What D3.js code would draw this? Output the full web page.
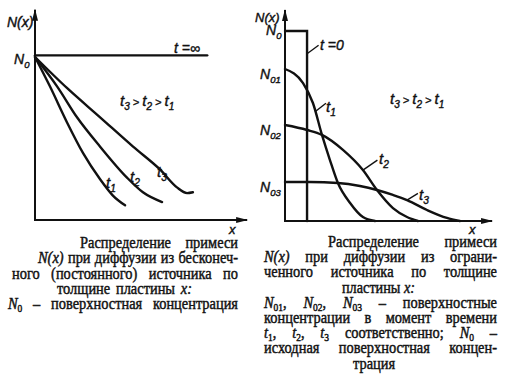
<!DOCTYPE html>
<html>
<head>
<meta charset="utf-8">
<script src="https://cdn.jsdelivr.net/npm/d3@7"></script>
<style>
  body { margin: 0; background: #fff; }
  svg { display: block; }
</style>
</head>
<body>
<div id="chart"></div>
<script>
// left: diffusion from an infinite source, depth (arb. units) vs N/N0
const infT1 = [[0, 1], [0.71, 0.82], [1.52, 0.6], [2.29, 0.41], [3.1, 0.25], [3.71, 0.15], [4.29, 0.09]];
const infT2 = [[0, 1], [1.05, 0.82], [2.0, 0.63], [3.1, 0.45], [4.38, 0.26], [5.14, 0.17], [6.05, 0.11]];
const infT3 = [[0, 1], [1.52, 0.81], [3.1, 0.63], [4.67, 0.45], [5.95, 0.31], [6.76, 0.2], [7.24, 0.165], [7.52, 0.17]];
const infLimit = [[0, 1.01], [8.2, 1.01]];

// right: diffusion from a limited source
const limT0 = [[0, 1], [1.05, 1], [1.05, 0]];
const limT1 = [[0, 0.8], [0.86, 0.726], [1.33, 0.621], [1.76, 0.453], [2.14, 0.321], [2.52, 0.2], [3.1, 0.095], [3.71, 0.021], [4.29, 0]];
const limT2 = [[0, 0.505], [1.05, 0.479], [1.76, 0.453], [2.76, 0.374], [3.71, 0.268], [4.38, 0.163], [5.14, 0.068], [5.81, 0.021], [6.33, 0]];
const limT3 = [[0, 0.205], [1.19, 0.205], [2.52, 0.2], [3.57, 0.184], [4.38, 0.163], [5.14, 0.137], [5.81, 0.11], [6.76, 0.058], [7.71, 0.016], [8.33, 0]];
const surfLevels = [["0", 1], ["01", 0.8], ["02", 0.505], ["03", 0.205]];

const capLeft = [
  "Распределение примеси",
  "*N(x)* при диффузии из бесконеч-",
  "ного (постоянного) источника по",
  "толщине пластины *x:*",
  "*N*_{0} – поверхностная концентрация"
];
const capRight = [
  "Распределение примеси",
  "*N(x)* при диффузии из ограни-",
  "ченного источника по толщине",
  "пластины *x:*",
  "*N*_{01}, *N*_{02}, *N*_{03} – поверхностные",
  "концентрации в момент времени",
  "*t*_{1}, *t*_{2}, *t*_{3} соответственно; *N*_{0} –",
  "исходная поверхностная концен-",
  "трация"
];

const width = 517, height = 377;
const svg = d3.select("#chart").append("svg")
  .attr("width", width).attr("height", height);

const defs = svg.append("defs");
defs.append("marker")
  .attr("id", "arr")
  .attr("viewBox", "0 -3 12 6")
  .attr("refX", 11).attr("refY", 0)
  .attr("markerWidth", 12).attr("markerHeight", 6)
  .attr("markerUnits", "userSpaceOnUse")
  .attr("orient", "auto")
  .append("path").attr("d", "M0,-3L12,0L0,3Z").attr("fill", "#111");

const xL = d3.scaleLinear().domain([0, 10]).range([35, 245]);
const yL = d3.scaleLinear().domain([0, 1]).range([220, 57]);
const xR = d3.scaleLinear().domain([0, 10]).range([285, 495]);
const yR = d3.scaleLinear().domain([0, 1]).range([221, 31]);

function axes(x, y, xMax, yMax) {
  svg.append("line")
    .attr("x1", x(0)).attr("y1", y(0)).attr("x2", x(0)).attr("y2", y(yMax))
    .attr("stroke", "#111").attr("stroke-width", 2).attr("marker-end", "url(#arr)");
  svg.append("line")
    .attr("x1", x(0) - 1).attr("y1", y(0)).attr("x2", x(xMax)).attr("y2", y(0))
    .attr("stroke", "#111").attr("stroke-width", 2).attr("marker-end", "url(#arr)");
}

function curve(x, y, pts, kind) {
  const line = d3.line().x(d => x(d[0])).y(d => y(d[1]))
    .curve(kind || d3.curveMonotoneX);
  svg.append("path").datum(pts)
    .attr("d", line)
    .attr("fill", "none").attr("stroke", "#111")
    .attr("stroke-width", 2.4).attr("stroke-linecap", "round");
}

function lblText(px, py, size) {
  return svg.append("text")
    .attr("x", px).attr("y", py)
    .attr("font-family", "Liberation Sans, DejaVu Sans, sans-serif")
    .attr("font-style", "italic").attr("font-size", size)
    .attr("fill", "#111").attr("stroke", "#111").attr("stroke-width", 0.4);
}

function label(px, py, base, sub, size) {
  size = size || 15;
  const t = lblText(px, py, size);
  t.append("tspan").text(base);
  if (sub) t.append("tspan").attr("dy", 4).attr("font-size", size * 0.68).text(sub);
  return t;
}

function leader(x, y, from, to) {
  svg.append("line")
    .attr("x1", x(from[0])).attr("y1", y(from[1]))
    .attr("x2", x(to[0])).attr("y2", y(to[1]))
    .attr("stroke", "#111").attr("stroke-width", 1.4);
}

function order(px, py) {
  const t = lblText(px, py, 15);
  ["3", "2", "1"].forEach((s, i) => {
    if (i) t.append("tspan").attr("dy", -4).attr("font-size", 11).text(" > ");
    t.append("tspan").text("t");
    t.append("tspan").attr("dy", 4).attr("font-size", 10).text(s);
  });
}

// ---- left chart
axes(xL, yL, 10.1, 1.29);
curve(xL, yL, infLimit, d3.curveLinear);
curve(xL, yL, infT1);
curve(xL, yL, infT2);
curve(xL, yL, infT3);
label(7, 27, "N(x)", null, 14);
label(14, 64, "N", "0", 14);
lblText(174, 53, 14).text("t =∞");
label(106, 188, "t", "1");
label(130, 182, "t", "2");
label(157, 177, "t", "3");
order(120, 106);
label(229, 234, "x", null, 13);

// ---- right chart
axes(xR, yR, 9.86, 1.11);
curve(xR, yR, limT0, d3.curveLinear);
curve(xR, yR, limT1);
curve(xR, yR, limT2);
curve(xR, yR, limT3);
label(255, 22, "N(x)", null, 13);
surfLevels.forEach(d => {
  label(d[0] === "0" ? 266 : 260, yR(d[1]) + (d[0] === "0" ? 4 : 10), "N", d[0], 14);
});
leader(xR, yR, [1.05, 0.88], [1.6, 0.925]);
lblText(320, 50, 14).text("t =0");
leader(xR, yR, [1.43, 0.575], [1.95, 0.62]);
label(326, 112, "t", "1");
leader(xR, yR, [3.71, 0.268], [4.4, 0.32]);
label(379, 164, "t", "2");
leader(xR, yR, [5.81, 0.11], [6.33, 0.145]);
label(419, 200, "t", "3");
order(390, 104);
label(469, 234, "x", null, 13);

// ---- captions (justified lines, serif, slightly condensed)
const squeeze = 0.9;

function drawWord(g, w, y) {
  const t = g.append("text").attr("x", 0).attr("y", y)
    .attr("font-family", "Liberation Serif, DejaVu Serif, serif")
    .attr("font-size", 16)
    .attr("fill", "#111").attr("stroke", "#111").attr("stroke-width", 0.45);
  const parts = w.split(/(\*[^*]+\*|_\{[^}]+\})/).filter(s => s);
  let lowered = false;
  parts.forEach(p => {
    if (p.startsWith("*")) {
      t.append("tspan").attr("font-style", "italic").attr("dy", lowered ? -3 : 0).text(p.slice(1, -1));
      lowered = false;
    } else if (p.startsWith("_{")) {
      t.append("tspan").attr("font-size", 10.5).attr("dy", 3).text(p.slice(2, -1));
      lowered = true;
    } else {
      t.append("tspan").attr("dy", lowered ? -3 : 0).text(p);
      lowered = false;
    }
  });
  return t;
}

function caption(lines, layout, y0, step) {
  const g = svg.append("g");
  lines.forEach((ln, i) => {
    const [x0, x1] = layout[i];
    const y = y0 + i * step;
    const ws = ln.split(" ").map(w => drawWord(g, w, y));
    const raw = ws.map(t => t.node().getComputedTextLength());
    let sq = squeeze;
    let gap = (x1 - x0 - d3.sum(raw) * sq) / Math.max(1, ws.length - 1);
    if (gap < 3.5) {
      gap = 3.5;
      sq = Math.min(squeeze, (x1 - x0 - gap * (ws.length - 1)) / d3.sum(raw));
    }
    let x = x0;
    ws.forEach((t, j) => {
      t.attr("x", x)
        .attr("textLength", raw[j] * sq)
        .attr("lengthAdjust", "spacingAndGlyphs");
      x += raw[j] * sq + gap;
    });
  });
}

caption(capLeft, [[80, 238], [38, 238], [12, 238], [57, 192], [8, 238]], 248, 15.3);
caption(capRight, [[328, 497], [264, 497], [264, 497], [342, 415], [264, 497], [264, 497], [264, 497], [264, 497], [353, 397]], 247, 15.2);
</script>
</body>
</html>
